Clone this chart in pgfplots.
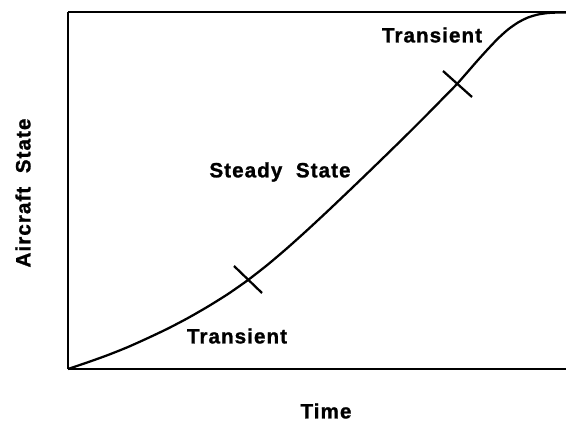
\documentclass[border=0pt]{standalone}
\usepackage{fontspec}
\usepackage{pgfplots}
\pgfplotsset{compat=1.18}
\newfontfamily\lab{Liberation Sans}[LetterSpace=5, FakeBold=1.2]
\newcommand{\lf}{\lab\bfseries\fontsize{15.5}{18}\selectfont}
\begin{document}
\begin{tikzpicture}
\useasboundingbox (-51pt,-39.75pt) rectangle (373.5pt,276.75pt);
\begin{axis}[
  at={(0,0)}, anchor=south west,
  scale only axis, width=373.5pt, height=267.75pt,
  xmin=0, xmax=498, ymin=0, ymax=357,
  axis x line=box, axis y line=left,
  x axis line style={-, line width=1.8pt},
  y axis line style={-, line width=1.8pt},
  xtick=\empty, ytick=\empty,
  clip=false,
]
\addplot[black, line width=1.7pt, smooth, tension=0.4] coordinates {
(0,0) (20,6.8) (40,14) (60,22) (80,31) (100,40.5) (120,51) (140,62.5)
(160,75) (180,89) (200,104.6) (220,121.6) (240,139.6) (260,158.2)
(280,177.2) (300,196.4) (320,215.8) (340,235.4) (360,255.4) (380,275.8)
(389,285) (400,297.5) (410,309) (420,320) (430,330.5) (440,339.5)
(450,346.5) (460,351.5) (470,354.5) (480,356) (490,356.5) (498,356.6)
};
\addplot[black, line width=1.7pt] coordinates {(166,103) (194,76)};
\addplot[black, line width=1.7pt] coordinates {(375,298) (404,272)};
\node[font=\lf] at (axis cs:169,33) {Transient};
\node[font=\lf] at (axis cs:212,197) {Steady\ \ State};
\node[font=\lf] at (axis cs:364,334) {Transient};
\node[font=\lf, rotate=90] at (axis cs:-45,176) {Aircraft\ \ State};
\node[font=\lf] at (axis cs:258,-42) {Time};
\end{axis}
\end{tikzpicture}
\end{document}
